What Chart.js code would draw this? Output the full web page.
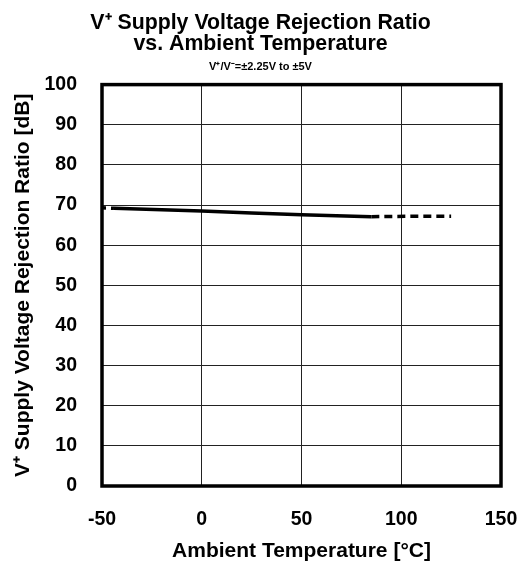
<!DOCTYPE html>
<html>
<head>
<meta charset="utf-8">
<script src="https://cdn.jsdelivr.net/npm/chart.js@4.4.0/dist/chart.umd.min.js"></script>
<style>
  body { margin: 0; background: #fff; }
  #wrap { width: 521px; height: 568px; }
</style>
</head>
<body>
<div id="wrap"><canvas id="myChart" width="521" height="568"></canvas></div>
<script>
// temperature (°C) and PSRR (dB)
const temps = [-50, -44, 0, 25, 50, 85, 105, 125];
const psrr = [69.3, 69.2, 68.5, 68.0, 67.6, 67.1, 67.2, 67.2];
const yTicks = [0, 10, 20, 30, 40, 50, 60, 70, 80, 90, 100];
const xTicks = [-50, 0, 50, 100, 150];

const FONT = "'Liberation Sans', Arial, sans-serif";

// thick frame round the plot area
const frame = {
  id: "frame",
  afterDraw(chart) {
    const a = chart.chartArea, ctx = chart.ctx;
    ctx.save();
    ctx.strokeStyle = "#000";
    ctx.lineWidth = 3.5;
    ctx.strokeRect(a.left, a.top, a.right - a.left, a.bottom - a.top);
    ctx.restore();
  }
};

new Chart("myChart", {
  type: "line",
  data: {
    datasets: [{
      data: temps.map((t, i) => ({x: t, y: psrr[i]})),
      borderColor: "#000",
      borderWidth: 3.5,
      pointRadius: 0,
      tension: 0,
      segment: {
        borderDash: ctx => {
          const x0 = ctx.p0.parsed.x;
          if (x0 < -44) return [4, 5];
          if (x0 >= 85) return [8, 5];
          return undefined;
        }
      }
    }]
  },
  options: {
    responsive: false,
    animation: false,
    layout: { padding: { left: 4, right: 4, top: 0, bottom: 4 } },
    plugins: {
      legend: { display: false },
      tooltip: { enabled: false },
      title: {
        display: true,
        text: ["V\u207A Supply Voltage Rejection Ratio", "vs. Ambient Temperature"],
        color: "#000",
        font: { family: FONT, size: 21.3, weight: "bold", lineHeight: 1.0 },
        padding: { top: 12, bottom: 0 }
      },
      subtitle: {
        display: true,
        text: "V\u207A/V\u207B=\u00B12.25V to \u00B15V",
        color: "#000",
        font: { family: FONT, size: 11, weight: "bold", lineHeight: 1.0 },
        padding: { top: 7, bottom: 12 }
      }
    },
    scales: {
      x: {
        type: "linear",
        min: -50,
        max: 150,
        afterBuildTicks: axis => { axis.ticks = xTicks.map(v => ({value: v})); },
        afterFit: s => { s.height = 78; s.paddingLeft = 0; s.paddingRight = 20; },
        grid: { color: "#222", lineWidth: 1, drawTicks: false },
        border: { display: false },
        ticks: { color: "#000", padding: 22, font: { family: FONT, size: 19.5, weight: "bold" } },
        title: {
          display: true,
          text: "Ambient Temperature [°C]",
          color: "#000",
          font: { family: FONT, size: 21, weight: "bold" },
          padding: { top: 0, bottom: 0 }
        }
      },
      y: {
        min: 0,
        max: 100,
        afterBuildTicks: axis => { axis.ticks = yTicks.map(v => ({value: v})); },
        afterFit: s => { s.width = 98; },
        grid: { color: "#222", lineWidth: 1, drawTicks: false },
        border: { display: false },
        ticks: { color: "#000", padding: 25, font: { family: FONT, size: 19.5, weight: "bold" } },
        title: {
          display: true,
          text: "V\u207A Supply Voltage Rejection Ratio [dB]",
          color: "#000",
          font: { family: FONT, size: 21, weight: "bold" },
          padding: { top: 7, bottom: 0 }
        }
      }
    }
  },
  plugins: [frame]
});
</script>
</body>
</html>
